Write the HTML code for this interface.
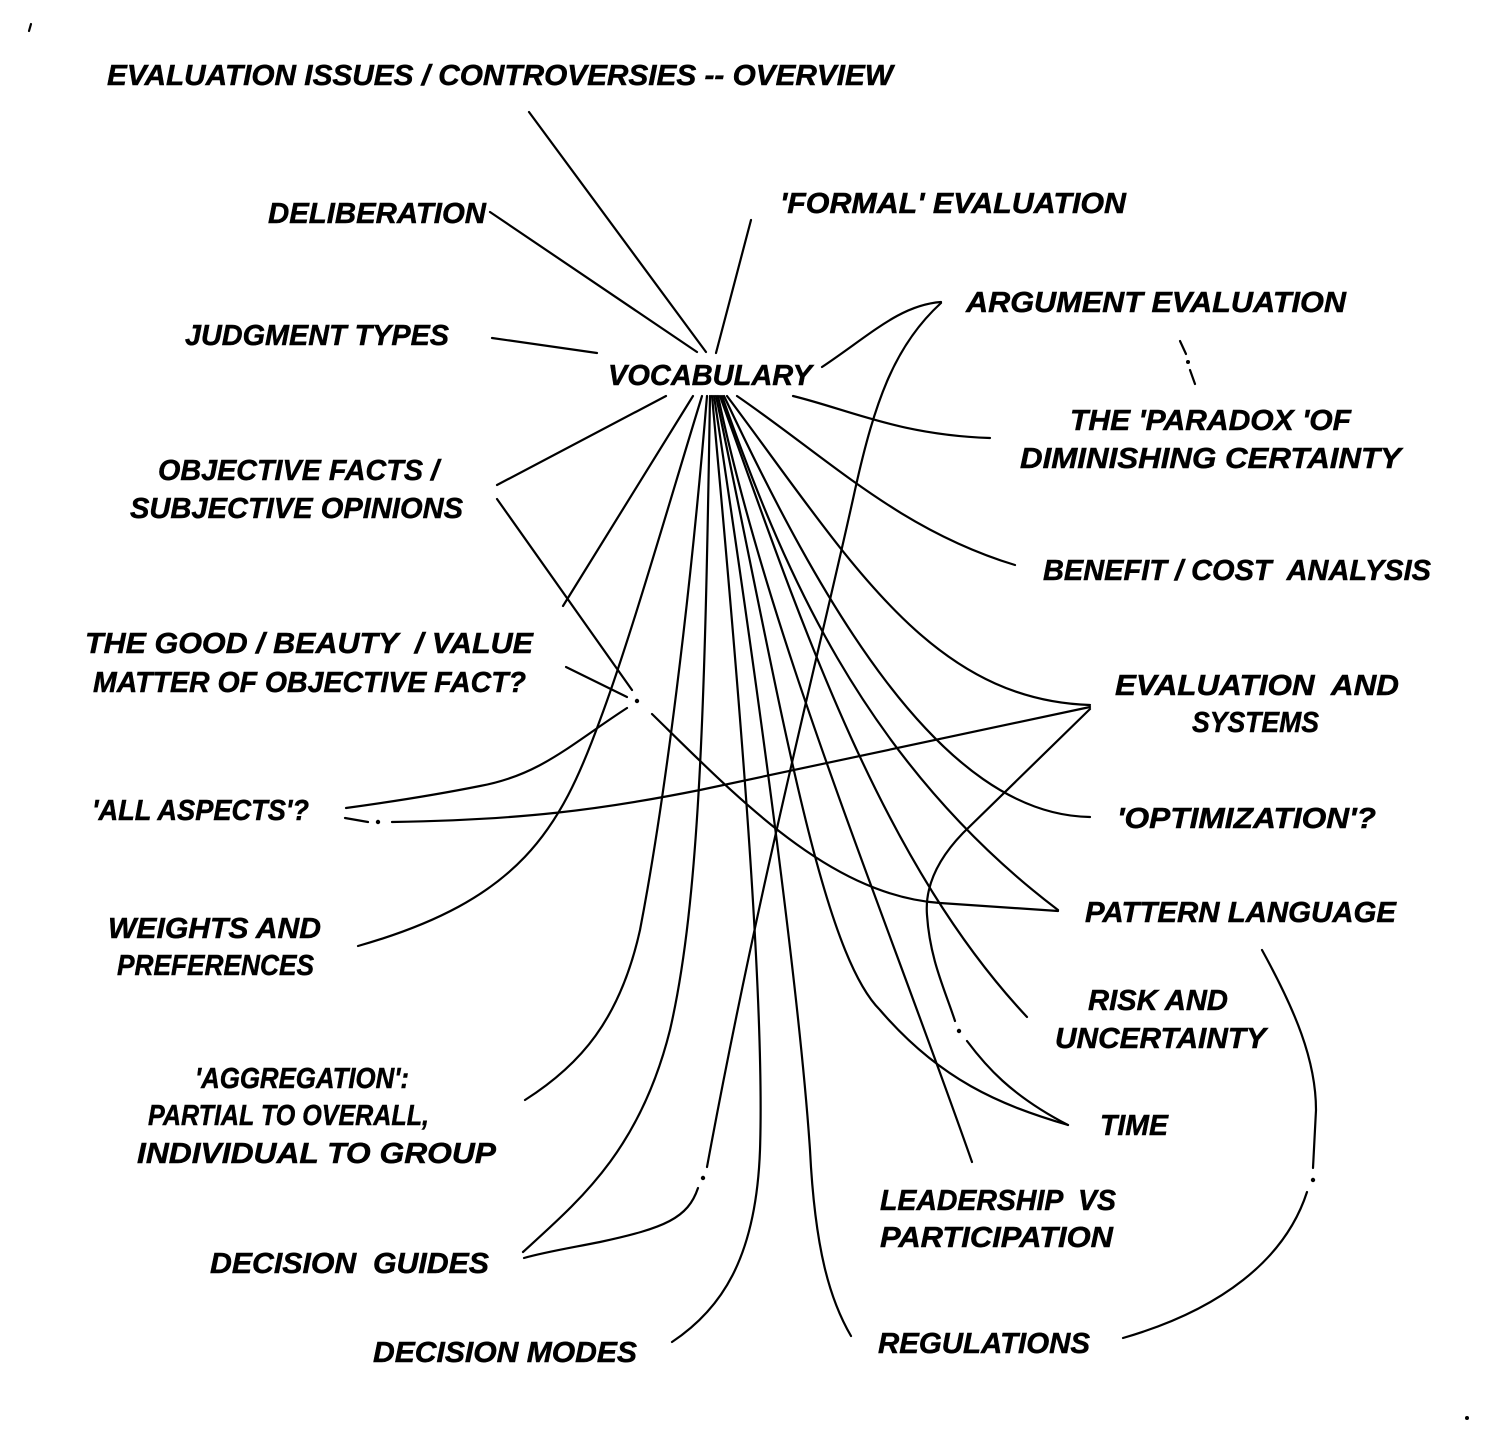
<!DOCTYPE html>
<html><head><meta charset="utf-8"><style>
html,body{margin:0;padding:0;background:#fff;}
svg{display:block;}
text{font-family:"Liberation Sans",Arial,sans-serif;font-weight:bold;font-style:italic;font-size:29px;fill:#000;stroke:#000;stroke-width:0.5;white-space:pre;}
.l{fill:none;stroke:#000;stroke-width:2.2;stroke-linecap:round;}
</style></head><body>
<svg width="1500" height="1450" viewBox="0 0 1500 1450" xmlns="http://www.w3.org/2000/svg">
<rect width="1500" height="1450" fill="#fff"/>
<!-- tiny marks -->
<path class="l" d="M31,24 L29,31" stroke-width="2"/>
<circle cx="1467" cy="1418" r="2" fill="#000"/>

<!-- top straight lines -->
<path class="l" d="M529,112 L706,352"/>
<path class="l" d="M490,212 L697,352"/>
<path class="l" d="M751,220 L716,353"/>
<path class="l" d="M492,338 L597,353"/>

<!-- hub fan -->
<path class="l" d="M666,396 L497,485"/>
<path class="l" d="M693,396 L563,606"/>
<path class="l" d="M702,396 C670,500 630,640 600,720 C560,830 520,900 358,946"/>
<path class="l" d="M707,396 C690,600 665,800 640,930 C620,1020 580,1065 525,1100"/>
<path class="l" d="M710,396 C705,700 700,900 670,1030 C640,1150 580,1200 523,1252"/>
<path class="l" d="M712,396 C740,700 765,1000 760,1150 C756,1260 720,1310 672,1342"/>
<path class="l" d="M714,396 C760,700 800,1000 810,1150 C815,1250 830,1300 851,1336"/>
<path class="l" d="M716,396 C780,700 820,950 880,1010 C940,1080 1000,1105 1068,1125"/>
<path class="l" d="M718,396 C770,640 880,900 972,1162"/>
<path class="l" d="M720,396 C800,620 880,860 1027,1017"/>
<path class="l" d="M722,396 C780,560 860,760 1058,910"/>
<path class="l" d="M724,396 C820,600 940,815 1090,817"/>
<path class="l" d="M727,396 C850,560 930,700 1090,705"/>
<path class="l" d="M737,396 C830,460 900,530 1015,565"/>
<path class="l" d="M793,396 C850,410 900,435 990,438"/>

<!-- argument evaluation -->
<path class="l" d="M822,367 C870,335 900,305 941,302"/>
<path class="l" d="M941,303 C895,345 875,400 855,490 C820,650 760,880 707,1167"/>
<circle cx="703" cy="1178" r="2.2" fill="#000"/>
<path class="l" d="M698,1188 C688,1218 665,1228 600,1242 C570,1248 545,1252 524,1258"/>
<!-- arg -> paradox dashes -->
<path class="l" d="M1180,341 L1186,354"/>
<circle cx="1188" cy="362" r="2" fill="#000"/>
<path class="l" d="M1190,370 L1195,384"/>

<!-- objective / good dot cluster -->
<path class="l" d="M497,499 L632,690"/>
<path class="l" d="M566,667 L627,697"/>
<circle cx="637" cy="701" r="2.2" fill="#000"/>
<path class="l" d="M627,708 C570,745 540,775 480,786 C430,796 390,802 346,808"/>
<path class="l" d="M652,714 C740,800 830,895 940,903 L1058,911"/>

<!-- all aspects lower -->
<path class="l" d="M345,818 L368,822"/>
<circle cx="378" cy="822" r="2.2" fill="#000"/>
<path class="l" d="M392,822 C520,820 600,810 700,790 L1090,707"/>

<!-- eval systems -> risk dot -> time -->
<path class="l" d="M1090,709 L963,833 C935,862 925,890 927,915 C930,960 945,990 955,1021"/>
<circle cx="959" cy="1031" r="2.2" fill="#000"/>
<path class="l" d="M967,1041 C985,1065 1010,1095 1068,1125"/>

<!-- pattern -> regulations -->
<path class="l" d="M1262,950 C1295,1010 1316,1060 1316,1110 L1313,1168"/>
<circle cx="1313" cy="1180" r="2.2" fill="#000"/>
<path class="l" d="M1307,1192 C1285,1260 1220,1310 1123,1338"/>

<!-- labels -->
<text x="107" y="85" textLength="786" lengthAdjust="spacingAndGlyphs">EVALUATION ISSUES / CONTROVERSIES -- OVERVIEW</text>
<text x="268" y="223" textLength="218" lengthAdjust="spacingAndGlyphs">DELIBERATION</text>
<text x="780" y="213" textLength="346" lengthAdjust="spacingAndGlyphs">'FORMAL' EVALUATION</text>
<text x="185" y="345" textLength="264" lengthAdjust="spacingAndGlyphs">JUDGMENT TYPES</text>
<text x="608" y="385" textLength="204" lengthAdjust="spacingAndGlyphs">VOCABULARY</text>
<text x="966" y="312" textLength="380" lengthAdjust="spacingAndGlyphs">ARGUMENT EVALUATION</text>
<text x="1070" y="430" textLength="281" lengthAdjust="spacingAndGlyphs">THE 'PARADOX 'OF</text>
<text x="1020" y="468" textLength="381" lengthAdjust="spacingAndGlyphs">DIMINISHING CERTAINTY</text>
<text x="158" y="480" textLength="281" lengthAdjust="spacingAndGlyphs">OBJECTIVE FACTS /</text>
<text x="130" y="518" textLength="333" lengthAdjust="spacingAndGlyphs">SUBJECTIVE OPINIONS</text>
<text x="1043" y="580" textLength="388" lengthAdjust="spacingAndGlyphs">BENEFIT / COST  ANALYSIS</text>
<text x="85" y="653" textLength="448" lengthAdjust="spacingAndGlyphs">THE GOOD / BEAUTY  / VALUE</text>
<text x="93" y="692" textLength="433" lengthAdjust="spacingAndGlyphs">MATTER OF OBJECTIVE FACT?</text>
<text x="1115" y="695" textLength="284" lengthAdjust="spacingAndGlyphs">EVALUATION  AND</text>
<text x="1192" y="732" textLength="127" lengthAdjust="spacingAndGlyphs">SYSTEMS</text>
<text x="92" y="820" textLength="217" lengthAdjust="spacingAndGlyphs">'ALL ASPECTS'?</text>
<text x="1117" y="828" textLength="259" lengthAdjust="spacingAndGlyphs">'OPTIMIZATION'?</text>
<text x="1085" y="922" textLength="311" lengthAdjust="spacingAndGlyphs">PATTERN LANGUAGE</text>
<text x="108" y="938" textLength="213" lengthAdjust="spacingAndGlyphs">WEIGHTS AND</text>
<text x="117" y="975" textLength="197" lengthAdjust="spacingAndGlyphs">PREFERENCES</text>
<text x="1088" y="1010" textLength="140" lengthAdjust="spacingAndGlyphs">RISK AND</text>
<text x="1055" y="1048" textLength="211" lengthAdjust="spacingAndGlyphs">UNCERTAINTY</text>
<text x="195" y="1088" textLength="214" lengthAdjust="spacingAndGlyphs">'AGGREGATION':</text>
<text x="148" y="1125" textLength="281" lengthAdjust="spacingAndGlyphs">PARTIAL TO OVERALL,</text>
<text x="137" y="1163" textLength="359" lengthAdjust="spacingAndGlyphs">INDIVIDUAL TO GROUP</text>
<text x="1100" y="1135" textLength="68" lengthAdjust="spacingAndGlyphs">TIME</text>
<text x="880" y="1210" textLength="236" lengthAdjust="spacingAndGlyphs">LEADERSHIP  VS</text>
<text x="880" y="1247" textLength="233" lengthAdjust="spacingAndGlyphs">PARTICIPATION</text>
<text x="210" y="1273" textLength="279" lengthAdjust="spacingAndGlyphs">DECISION  GUIDES</text>
<text x="373" y="1362" textLength="264" lengthAdjust="spacingAndGlyphs">DECISION MODES</text>
<text x="878" y="1353" textLength="212" lengthAdjust="spacingAndGlyphs">REGULATIONS</text>
</svg>
</body></html>
